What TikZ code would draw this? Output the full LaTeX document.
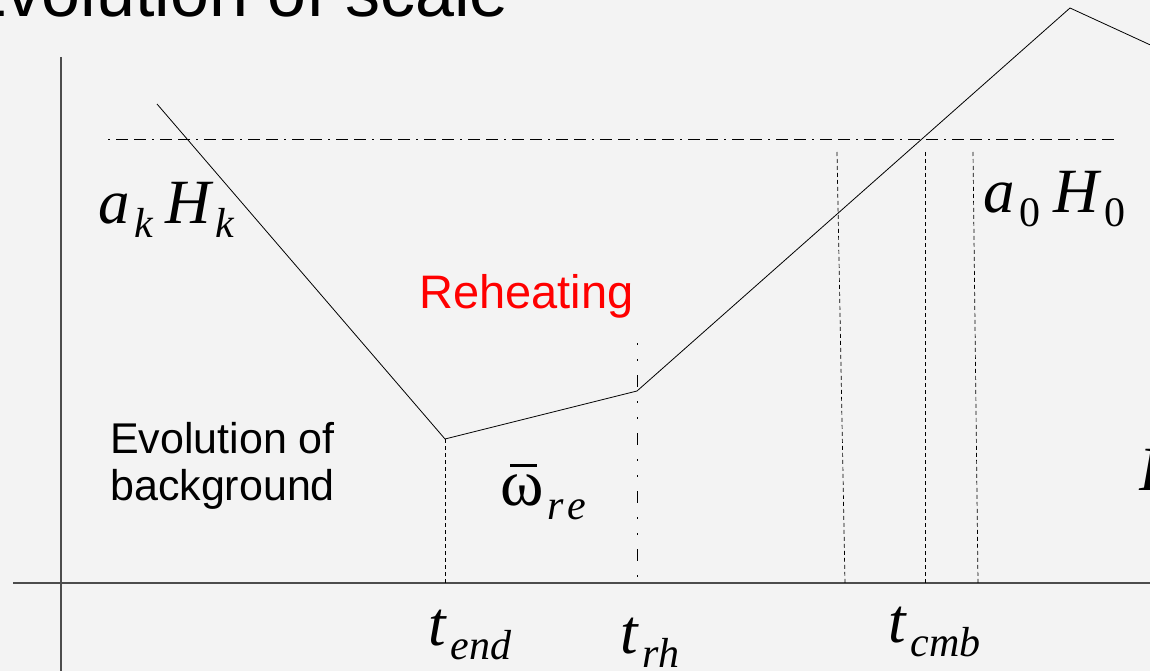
\documentclass[tikz,border=0pt]{standalone}
\usepackage{fontspec}
\setmainfont{Liberation Sans}
\newfontfamily\serif{Liberation Serif}
\usepackage{xcolor}
\usetikzlibrary{positioning,calc}
\definecolor{slidebg}{HTML}{F3F3F3}
\newcommand{\sub}[1]{\raisebox{-14pt}{\fontsize{42}{44}\selectfont#1}}
\newcommand{\sym}[2]{{\serif\itshape #1\kern5pt\sub{#2}}}

\begin{document}
\begin{tikzpicture}[
  x=1pt,y=-1pt,
  % --- line styles ---
  axis/.style   ={draw=black!70,line width=1.4pt},
  curve/.style  ={draw=black,line width=0.8pt,line join=miter},
  level/.style  ={draw=black,line width=0.7pt,dash pattern=on 2pt off 6pt on 12pt off 6pt on 12pt off 6pt},
  vmark/.style  ={draw=black,line width=0.7pt,dash pattern=on 4pt off 3pt},
  rhmark/.style ={draw=black,line width=0.7pt,dash pattern=on 2pt off 14pt on 2pt off 14pt on 12pt off 14pt},
  % --- text styles ---
  title/.style  ={anchor=base west,inner sep=0pt,font=\fontsize{70}{80}\selectfont},
  body/.style   ={anchor=base west,inner sep=0pt,align=left,font=\fontsize{43}{47}\selectfont},
  mathlbl/.style={anchor=base west,inner sep=0pt,font=\fontsize{63}{70}\selectfont},
]

% ============================ page ============================
\fill[slidebg] (0,0) rectangle (1150,671);
\useasboundingbox (0,0) rectangle (1150,671);
\clip (0,0) rectangle (1150,671);

\node[title] (ttl) at (-40,17) {Evolution of scale};

% ============================ axes ============================
\coordinate (ytop) at (61,57);
\coordinate (ybot) at (61,680);
\coordinate (xl)   at (13,583);
\coordinate (xr)   at (1160,583);
\draw[axis] (ytop) -- (ybot);
\draw[axis] (xl) -- (xr);

% ======================== scale curve =========================
\coordinate (kin)  at (157,104);
\coordinate (end)  at (445,439);
\coordinate (rh)   at (637,391);
\coordinate (peak) at (1070,8);
\coordinate (out)  at (1170,54);
\draw[curve] (kin) -- (end) -- (rh) -- (peak) -- (out);

% horizontal level a_0 H_0
\coordinate (lvl0) at (108,139);
\coordinate (lvl1) at (1118,139);
\draw[level] (lvl0) -- (lvl1);

% ======================= vertical markers =====================
\draw[vmark] (end) -- (end |- xl);
\coordinate (rhtop) at (637,343);
\draw[rhmark] (rhtop) -- (rhtop |- xl);
\coordinate (m1t) at (837,152);  \coordinate (m1b) at (845,583);
\coordinate (m2t) at (925,152);  \coordinate (m2b) at (925,583);
\coordinate (m3t) at (973,152);  \coordinate (m3b) at (978,583);
\draw[vmark] (m1t) -- (m1b);
\draw[vmark] (m2t) -- (m2b);
\draw[vmark] (m3t) -- (m3b);

% =========================== labels ===========================
\node[mathlbl] (akhk) at (98,223) {\sym{a}{k}\kern12pt\sym{H}{k}};
\node[mathlbl] (a0h0) at (983,212) {\sym{a}{\upshape 0}\kern13pt\sym{H}{\upshape 0}};
\node[body,text=red,font=\fontsize{47}{52}\selectfont] (reh) at (419,308) {Reheating};
\node[body] (bg) at (110,500) {Evolution of\\background};
\node[mathlbl] (wre) at (500,505)
  {\serif\fontsize{66}{70}\selectfont\rlap{\kern10pt\raisebox{38pt}{\rule{27pt}{3.5pt}}}ω\kern4pt\sub{\itshape r\kern4pt e}};
\node[mathlbl] (tend) at (428,645) {\sym{t}{end}};
\node[mathlbl] (trh)  at (620,653) {\sym{t}{rh}};
\node[mathlbl] (tcmb) at (888,642) {\sym{t}{cmb}};
\node[mathlbl] (rcut) at (1139,490) {\serif\itshape R};

\end{tikzpicture}
\end{document}
